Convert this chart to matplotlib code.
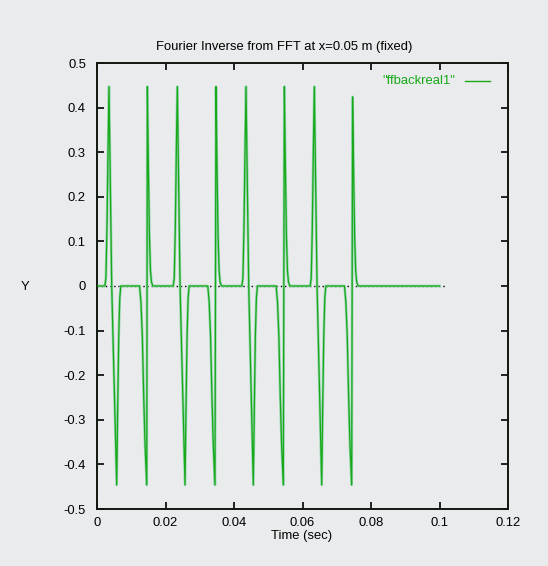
import matplotlib
matplotlib.use("Agg")
import matplotlib.pyplot as plt
import numpy as np

# ---- data ----
# pulse group A: positive spike followed by negative spike
pos_A_time = [0.0035, 0.02345, 0.0435, 0.06345]
pos_A_amp = [0.447, 0.447, 0.447, 0.447]
neg_A_time = [0.00575, 0.0257, 0.04564, 0.06561]
neg_A_amp = [-0.446, -0.446, -0.446, -0.446]
# pulse group B: negative spike immediately followed by positive spike
neg_B_time = [0.01453, 0.03445, 0.0544, 0.07436]
neg_B_amp = [-0.446, -0.446, -0.446, -0.446]
pos_B_time = [0.0147, 0.03474, 0.0547, 0.07463]
pos_B_amp = [0.447, 0.447, 0.447, 0.424]

# pulse flank shapes (time offset from peak, fraction of peak)
A_lead_off = [-0.0012, -0.0009, -0.0006, -0.0003]
A_lead_frac = [0.0, 0.04, 0.28, 0.66]
A_cross_off = 0.0008
A_trail_off = [0.0003, 0.0006, 0.0009, 0.0012]
A_trail_frac = [0.6, 0.25, 0.06, 0.0]
B_lead_off = [-0.0021, -0.0017, -0.0013, -0.0009, -0.0005]
B_lead_frac = [0.0, 0.08, 0.25, 0.55, 0.8]
B_trail_off = [0.0003, 0.0006, 0.0009, 0.0012, 0.0016]
B_trail_frac = [0.6, 0.26, 0.08, 0.02, 0.0]

t_start, t_end = 0.0, 0.1

x_ticks = [0, 0.02, 0.04, 0.06, 0.08, 0.1, 0.12]
x_tick_labels = ["0", "0.02", "0.04", "0.06", "0.08", "0.1", "0.12"]
y_ticks = [-0.5, -0.4, -0.3, -0.2, -0.1, 0, 0.1, 0.2, 0.3, 0.4, 0.5]
y_tick_labels = ["-0.5", "-0.4", "-0.3", "-0.2", "-0.1", "0", "0.1", "0.2", "0.3", "0.4", "0.5"]

# ---- assemble the curve ----
pts = [(t_start, 0.0), (t_end, 0.0)]
for tp, ap, tn, an in zip(pos_A_time, pos_A_amp, neg_A_time, neg_A_amp):
    for o, f in zip(A_lead_off, A_lead_frac):
        pts.append((tp + o, f * ap))
    pts.append((tp, ap))
    pts.append((tp + A_cross_off, 0.0))
    pts.append((tn, an))
    for o, f in zip(A_trail_off, A_trail_frac):
        pts.append((tn + o, f * an))
for tn, an, tp, ap in zip(neg_B_time, neg_B_amp, pos_B_time, pos_B_amp):
    for o, f in zip(B_lead_off, B_lead_frac):
        pts.append((tn + o, f * an))
    pts.append((tn, an))
    pts.append((tp, ap))
    for o, f in zip(B_trail_off, B_trail_frac):
        pts.append((tp + o, f * ap))
pts.sort()
t = np.array([p[0] for p in pts])
y = np.array([p[1] for p in pts])

# ---- figure ----
plt.rcParams['font.family'] = ['Liberation Sans', 'DejaVu Sans']
bg = '#e9ebec'
fs = 9.4
fig = plt.figure(figsize=(5.48, 5.66), dpi=100, facecolor=bg)
ax = fig.add_axes([97 / 548, 1 - 509 / 566, 411 / 548, 446 / 566])
ax.set_facecolor(bg)

ax.plot([0, 0.102], [0, 0], linestyle=(0, (1, 2)), color='black', lw=1.0, zorder=1)
ax.plot(t, y, color='#93d6b0', lw=1.9, zorder=2)
ax.plot(t, y, color='#18a818', lw=0.9, zorder=3)

ax.set_xlim(0, 0.12)
ax.set_ylim(-0.5, 0.5)
ax.set_xticks(x_ticks)
ax.set_xticklabels(x_tick_labels)
ax.set_yticks(y_ticks)
ax.set_yticklabels(y_tick_labels)
ax.tick_params(axis='x', direction='in', length=5, width=1.2, top=True,
               labelsize=fs, colors='black', pad=6)
ax.tick_params(axis='y', direction='in', length=5, width=1.2, right=True,
               labelsize=fs, colors='black', pad=8)
for s in ax.spines.values():
    s.set_linewidth(1.4)
    s.set_color('#101810')

fig.text(284.5 / 548, 1 - 47 / 566, "Fourier Inverse from FFT at x=0.05 m (fixed)",
         fontsize=fs, ha='center', va='center')
fig.text(302 / 548, 1 - 536 / 566, "Time (sec)", fontsize=fs, ha='center', va='center')
fig.text(25 / 548, 1 - 287 / 566, "Y", fontsize=fs, ha='center', va='center')

# legend (gnuplot style: text then line sample)
fig.text(455 / 548, 1 - 81 / 566, '"ffbackreal1"', fontsize=fs, color='#18a818',
         ha='right', va='center')
fig.add_artist(plt.Line2D([465 / 548, 490 / 548], [1 - 81 / 566, 1 - 81 / 566],
                          color='#18a818', lw=1.0, transform=fig.transFigure))

fig.savefig("out.png", dpi=100, facecolor=bg)
